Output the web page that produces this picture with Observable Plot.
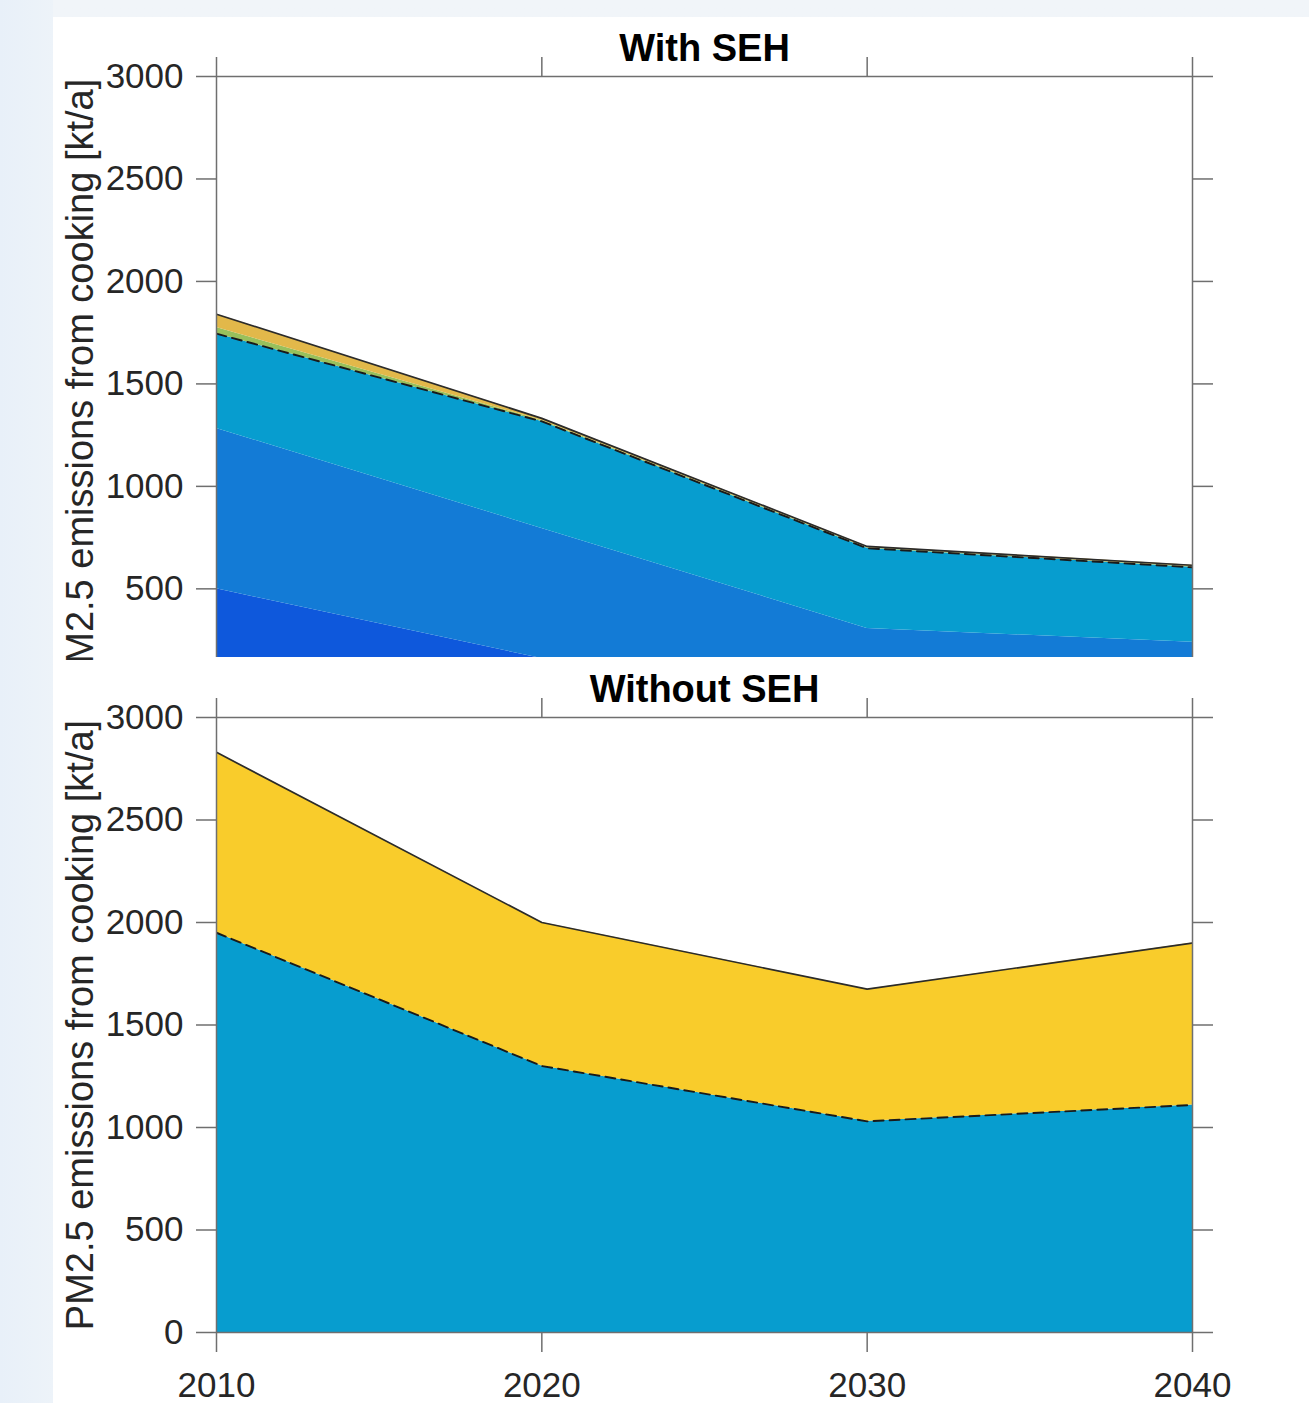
<!DOCTYPE html>
<html><head><meta charset="utf-8">
<script src="https://cdn.jsdelivr.net/npm/d3@7"></script>
<script src="https://cdn.jsdelivr.net/npm/@observablehq/plot@0.6"></script>
<style>
html,body{margin:0;padding:0;}
body{width:1309px;height:1403px;overflow:hidden;background:linear-gradient(180deg,#f1f5f9 0px,#edf3f9 100%);font-family:"Liberation Sans",Arial,sans-serif;}
#wrap{position:relative;width:1309px;height:1403px;background:linear-gradient(90deg,#e8f0f9 0px,#edf3f9 53px,rgba(241,245,249,0) 53px);}
#card{position:absolute;left:53px;top:17px;width:1256px;height:1386px;background:#fff;}
#p1{position:absolute;left:53px;top:0;}
#p2{position:absolute;left:53px;top:660px;}
</style></head>
<body><div id="wrap"><div id="card"></div><div id="p1"></div><div id="p2"></div></div>
<script>
// ---- data ----
const years = [2010, 2020, 2030, 2040];
const yTicks = [0, 500, 1000, 1500, 2000, 2500, 3000];
const yLabel = "PM2.5 emissions from cooking [kt/a]";
const titles = ["With SEH", "Without SEH"];

// With SEH (stacked, bottom to top)
const withNames  = ["Layer 1", "Layer 2", "Layer 3", "Layer 4", "Layer 5"];
const withColors = ["#0e58dc", "#137bd6", "#079dcf", "#98c05c", "#e2b84a"];
const withL1 = [500, 160, 50, 30];
const withL2 = [783, 635, 257, 209];
const withL3 = [462, 522, 391, 366];
const withL4 = [30, 5, 3, 3];
const withL5 = [65, 10, 6, 7];

// Without SEH (stacked, bottom to top)
const withoutNames  = ["Layer A", "Layer B"];
const withoutColors = ["#079dcf", "#f9cc2b"];
const withoutL1 = [1950, 1300, 1030, 1110];
const withoutL2 = [880, 700, 645, 790];

const edgeColor = "#6f6f6f";
const textColor = "#262626";

function panel({title, names, colors, series, dashedAfter, yDomain, height, marginTop, marginBottom, bottomAxis}) {
  const data = series.flatMap((vals, k) => years.map((year, i) => ({year, layer: names[k], value: vals[i]})));
  const total = years.map((year, i) => ({year, value: d3.sum(series, s => s[i])}));
  const base = years.map((year, i) => ({year, value: d3.sum(series.slice(0, dashedAfter), s => s[i])}));
  const ticksIn = yTicks.filter(t => t >= yDomain[0] && t <= yDomain[1]);
  const yTop = yTicks[yTicks.length - 1];
  const marks = [
    Plot.areaY(data, {x: "year", y: "value", fill: "layer", clip: true}),
    Plot.lineY(base, {x: "year", y: "value", stroke: "#1a1a1a", strokeWidth: 1.9, strokeDasharray: "10,6", clip: true}),
    Plot.lineY(total, {x: "year", y: "value", stroke: "#2b2b2b", strokeWidth: 1.7, clip: true}),
    Plot.ruleX([years[0], years[years.length - 1]], {stroke: edgeColor, strokeWidth: 1.5}),
    Plot.ruleY([yTop], {stroke: edgeColor, strokeWidth: 1.5}),
    Plot.axisY(ticksIn, {anchor: "left", tickSize: 20, tickPadding: 13, fontSize: 35, stroke: edgeColor, strokeWidth: 1.5, fill: textColor, label: null, tickFormat: d3.format("d")}),
    Plot.axisY(ticksIn, {anchor: "right", tickSize: 20, stroke: edgeColor, strokeWidth: 1.5, label: null, tickFormat: () => ""}),
    Plot.axisX(years, {anchor: "top", tickSize: 20, stroke: edgeColor, strokeWidth: 1.5, label: null, tickFormat: () => ""}),
    Plot.text([{t: title}], {text: "t", frameAnchor: "top", dy: -16, lineAnchor: "bottom", fontWeight: "bold", fontSize: 38, fill: "#000"}),
    Plot.text([{t: yLabel, mid: yTop / 2}], {text: "t", y: "mid", frameAnchor: "left", dx: -136, rotate: -90, textAnchor: "middle", lineAnchor: "middle", fontSize: 38, fill: textColor})
  ];
  if (bottomAxis) {
    marks.push(Plot.ruleY([yTicks[0]], {stroke: edgeColor, strokeWidth: 1.5}));
    marks.push(Plot.axisX(years, {anchor: "bottom", tickSize: 20, tickPadding: 20, fontSize: 35, stroke: edgeColor, strokeWidth: 1.5, fill: textColor, label: null, tickFormat: d3.format("d")}));
  }
  return Plot.plot({
    width: 1256, height,
    marginLeft: 163, marginRight: 117, marginTop, marginBottom,
    style: {fontFamily: "'Liberation Sans', Arial, sans-serif", background: "none", overflow: "hidden"},
    x: {domain: [years[0], years[years.length - 1]]},
    y: {domain: yDomain},
    color: {domain: names, range: colors},
    marks
  });
}

document.getElementById("p1").appendChild(panel({
  title: titles[0], names: withNames, colors: withColors,
  series: [withL1, withL2, withL3, withL4, withL5], dashedAfter: 3,
  yDomain: [165, 3000], height: 660, marginTop: 76, marginBottom: 3, bottomAxis: false
}));
document.getElementById("p2").appendChild(panel({
  title: titles[1], names: withoutNames, colors: withoutColors,
  series: [withoutL1, withoutL2], dashedAfter: 1,
  yDomain: [0, 3000], height: 743, marginTop: 57, marginBottom: 71, bottomAxis: true
}));
</script>
</body></html>
